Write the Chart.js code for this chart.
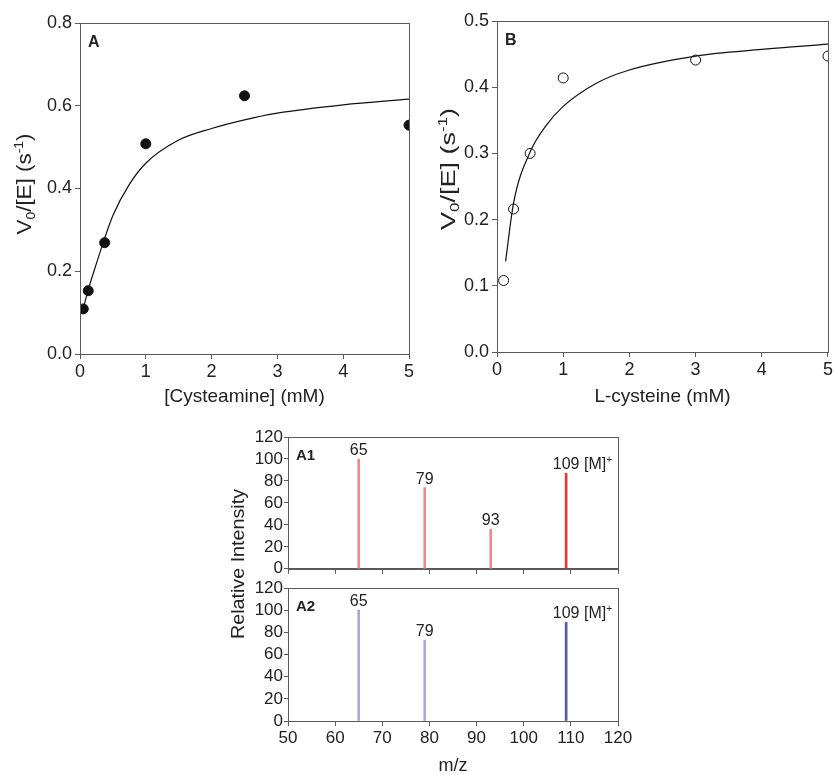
<!DOCTYPE html>
<html>
<head>
<meta charset="utf-8">
<script src="https://cdn.jsdelivr.net/npm/chart.js@4.4.1/dist/chart.umd.min.js"></script>
<style>
  body { margin: 0; background: #fff; }
  #wrap { position: relative; width: 835px; height: 775px; overflow: hidden; background: #fff; }
  canvas { position: absolute; }
</style>
</head>
<body>
<div id="wrap">
  <canvas id="cA" width="420" height="410" style="left:0;top:0"></canvas>
  <canvas id="cB" width="415" height="410" style="left:420px;top:0"></canvas>
  <canvas id="c1" width="430" height="170" style="left:220px;top:410px"></canvas>
  <canvas id="c2" width="430" height="295" style="left:220px;top:480px"></canvas>
</div>
<script>
// panel A - cysteamine
const cysteamineMM = [0.05, 0.125, 0.375, 1, 2.5, 5];
const cysteamineRate = [0.109, 0.153, 0.269, 0.508, 0.624, 0.553];
const cysteamineFitX = [0.05, 0.125, 0.25, 0.375, 0.5, 0.75, 1, 1.5, 2, 2.5, 3, 4, 5];
const cysteamineFitY = [0.11, 0.155, 0.219, 0.28, 0.335, 0.41, 0.461, 0.517, 0.545, 0.566, 0.582, 0.602, 0.616];

// panel B - L-cysteine
const cysteineMM = [0.1, 0.25, 0.5, 1, 3, 5];
const cysteineRate = [0.108, 0.216, 0.300, 0.414, 0.441, 0.447];
const cysteineFitX = [0.13, 0.25, 0.5, 0.75, 1, 1.5, 2, 3, 4, 5];
const cysteineFitY = [0.137, 0.225, 0.302, 0.343, 0.371, 0.406, 0.426, 0.447, 0.457, 0.465];

// mass spectra
const mzA1 = [65, 79, 93, 109];
const intensityA1 = [100, 74, 36, 87];
const labelsA1 = ['65', '79', '93', '109'];
const mzA2 = [65, 79, 109];
const intensityA2 = [100, 73, 89];
const labelsA2 = ['65', '79', '109'];
const ionLabel = ' [M]';
const ionCharge = '+';

const FONT = "'Liberation Sans', Arial, Helvetica, sans-serif";
const AXIS = '#5a5a5a';
Chart.defaults.font.family = FONT;
Chart.defaults.color = '#222';
Chart.defaults.animation = false;

function pts(xs, ys) {
  return xs.map((x, i) => ({ x: x, y: ys[i] }));
}

// text with sub/superscript parts, optionally stretched to a length
function drawRich(ctx, parts, size, len) {
  const small = Math.round(size * 0.62);
  const widths = parts.map(p => {
    ctx.font = (p[1] ? small : size) + 'px ' + FONT;
    return ctx.measureText(p[0]).width;
  });
  const total = widths.reduce((a, b) => a + b, 0);
  const sx = len ? len / total : 1;
  ctx.scale(sx, 1);
  let x = -total / 2;
  const base = size * 0.36;
  parts.forEach((p, i) => {
    ctx.font = (p[1] ? small : size) + 'px ' + FONT;
    let dy = 0;
    if (p[1] === 'sub') dy = size * 0.22;
    if (p[1] === 'sup') dy = -size * 0.38;
    ctx.fillText(p[0], x, base + dy);
    x += widths[i];
  });
}

const notes = {
  id: 'notes',
  afterDraw(chart, args, opts) {
    const ctx = chart.ctx;
    const a = chart.chartArea;
    ctx.save();
    // frame
    ctx.strokeStyle = AXIS;
    ctx.lineWidth = 1;
    ctx.strokeRect(Math.round(a.left) + 0.5, Math.round(a.top) + 0.5,
      Math.round(a.right - a.left), Math.round(a.bottom - a.top));
    ctx.fillStyle = '#222';
    ctx.textAlign = 'left';
    ctx.textBaseline = 'top';
    if (opts.tag) {
      ctx.font = 'bold ' + opts.tagSize + 'px ' + FONT;
      ctx.fillText(opts.tag, a.left + opts.tagDx, a.top + opts.tagDy);
    }
    if (opts.yTitle) {
      const t = opts.yTitle;
      ctx.textBaseline = 'alphabetic';
      ctx.translate(t.x, t.y);
      ctx.rotate(-Math.PI / 2);
      drawRich(ctx, t.parts, t.size, t.len);
    }
    ctx.restore();
  }
};

const peaks = {
  id: 'peaks',
  afterDatasetsDraw(chart, args, opts) {
    const ctx = chart.ctx;
    const bars = chart.getDatasetMeta(0).data;
    ctx.save();
    ctx.fillStyle = '#222';
    ctx.textBaseline = 'alphabetic';
    bars.forEach((bar, i) => {
      const txt = opts.labels[i];
      const y = bar.y - opts.gap;
      ctx.font = opts.size + 'px ' + FONT;
      ctx.textAlign = 'center';
      ctx.fillText(txt, bar.x, y);
      if (i === opts.ionIndex) {
        let x = bar.x + ctx.measureText(txt).width / 2;
        ctx.textAlign = 'left';
        ctx.fillText(ionLabel, x, y);
        x += ctx.measureText(ionLabel).width;
        ctx.font = Math.round(opts.size * 0.6) + 'px ' + FONT;
        ctx.fillText(ionCharge, x, y - opts.size * 0.42);
      }
    });
    ctx.restore();
  }
};

const vTitle = [['V', ''], ['0', 'sub'], ['/[E] (s', ''], ['-1', 'sup'], [')', '']];

function kineticChart(id, o) {
  return new Chart(document.getElementById(id), {
    type: 'scatter',
    data: {
      datasets: [
        {
          data: pts(o.fitX, o.fitY),
          showLine: true,
          pointRadius: 0,
          borderColor: '#111',
          borderWidth: 1.2,
          cubicInterpolationMode: 'monotone'
        },
        {
          data: pts(o.x, o.y),
          pointRadius: 5,
          pointBackgroundColor: o.fill,
          pointBorderColor: '#111',
          pointBorderWidth: 1
        }
      ]
    },
    options: {
      responsive: false,
      devicePixelRatio: 1,
      layout: { padding: { top: o.top, right: o.right, left: 0, bottom: 0 } },
      plugins: {
        legend: { display: false },
        tooltip: { enabled: false },
        notes: { tag: o.tag, tagSize: 16, tagDx: 8, tagDy: 12, yTitle: o.yTitle }
      },
      scales: {
        x: {
          type: 'linear',
          min: 0, max: 5,
          ticks: { stepSize: 1, font: { size: 18 }, padding: 2 },
          grid: { drawOnChartArea: false, tickLength: 5, color: AXIS },
          border: { color: AXIS },
          title: { display: true, text: o.xTitle, font: { size: 19 }, padding: { top: 0, bottom: 2 } },
          afterFit: s => { s.height = o.xh; }
        },
        y: {
          min: 0, max: o.ymax,
          ticks: { stepSize: o.step, font: { size: 18 }, padding: 3, autoSkip: false, callback: v => v.toFixed(1) },
          grid: { drawOnChartArea: false, tickLength: 5, color: AXIS },
          border: { color: AXIS },
          afterFit: s => { s.width = o.yw; }
        }
      }
    },
    plugins: [notes]
  });
}

kineticChart('cA', {
  x: cysteamineMM, y: cysteamineRate, fitX: cysteamineFitX, fitY: cysteamineFitY,
  fill: '#111', tag: 'A', xTitle: '[Cysteamine] (mM)', ymax: 0.8, step: 0.2,
  top: 23, right: 11, yw: 80, xh: 56,
  yTitle: { parts: vTitle, size: 21, x: 23, y: 184, len: 101 }
});

kineticChart('cB', {
  x: cysteineMM, y: cysteineRate, fitX: cysteineFitX, fitY: cysteineFitY,
  fill: '#fff', tag: 'B', xTitle: 'L-cysteine (mM)', ymax: 0.5, step: 0.1,
  top: 21, right: 7, yw: 77, xh: 58,
  yTitle: { parts: vTitle, size: 21, x: 27, y: 169, len: 122 }
});

function spectrumChart(id, o) {
  return new Chart(document.getElementById(id), {
    type: 'bar',
    data: {
      datasets: [{
        data: pts(o.mz, o.inten),
        backgroundColor: o.colors,
        barThickness: 2
      }]
    },
    options: {
      responsive: false,
      devicePixelRatio: 1,
      layout: { padding: { top: o.top, right: 32, left: 0, bottom: 0 } },
      plugins: {
        legend: { display: false },
        tooltip: { enabled: false },
        notes: { tag: o.tag, tagSize: 15, tagDx: 8, tagDy: 11, yTitle: o.yTitle },
        peaks: { labels: o.labels, size: 16, gap: 4, ionIndex: o.labels.length - 1 }
      },
      scales: {
        x: {
          type: 'linear',
          offset: false,
          min: 50, max: 120,
          ticks: { stepSize: 10, display: o.showX, font: { size: 17 }, padding: 2, autoSkip: false },
          grid: { drawOnChartArea: false, tickLength: 5, color: AXIS, offset: false },
          border: { color: AXIS },
          title: { display: o.showX, text: 'm/z', font: { size: 18, lineHeight: 1 }, padding: { top: 0, bottom: 0 } },
          afterFit: s => { s.height = o.xh; }
        },
        y: {
          min: 0, max: 120,
          ticks: { stepSize: 20, font: { size: 17 }, padding: 1, autoSkip: false },
          grid: { drawOnChartArea: false, tickLength: 4, color: AXIS },
          border: { color: AXIS },
          afterFit: s => { s.width = 68; }
        }
      }
    },
    plugins: [notes, peaks]
  });
}

spectrumChart('c1', {
  mz: mzA1, inten: intensityA1, labels: labelsA1, tag: 'A1',
  colors: ['#f08a8a', '#f08a8a', '#f08a8a', '#e03a3a'],
  top: 27, xh: 11, showX: false
});

spectrumChart('c2', {
  mz: mzA2, inten: intensityA2, labels: labelsA2, tag: 'A2',
  colors: ['#a8a8e0', '#a8a8e0', '#5858a8'],
  top: 108, xh: 54, showX: true,
  yTitle: { parts: [['Relative Intensity', '']], size: 19, x: 17, y: 84, len: 150 }
});
</script>
</body>
</html>
